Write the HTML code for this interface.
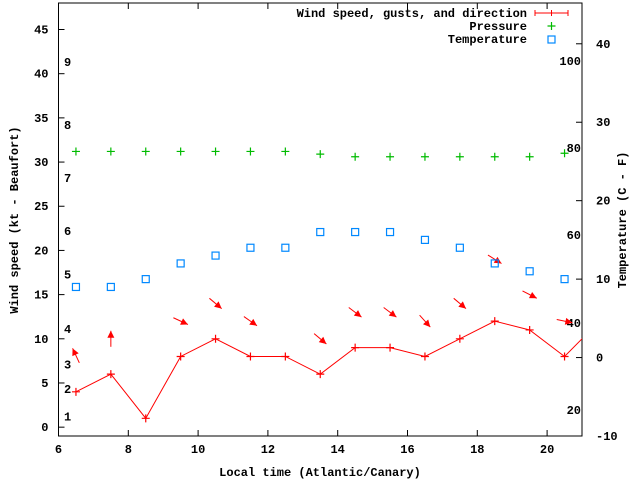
<!DOCTYPE html>
<html><head><meta charset="utf-8"><style>
html,body{margin:0;padding:0;background:#fff;}
svg{display:block;font-family:"Liberation Mono","DejaVu Sans Mono",monospace;font-weight:bold;}
</style></head><body>
<svg id="chart" width="640" height="480" viewBox="0 0 640 480" xmlns="http://www.w3.org/2000/svg">
<g id="axes"></g>
<g id="marks"></g>
</svg>
<script>
const hours = [6.5,7.5,8.5,9.5,10.5,11.5,12.5,13.5,14.5,15.5,16.5,17.5,18.5,19.5,20.5,21.5];
const windSpeed = [4,6,1,8,10,8,8,6,9,9,8,10,12,11,8,12];
const gusts = [8.1,10,null,12,14,12,null,10,13,13,12,14,19,15,12];
const windDirAngle = [-115,-90,null,25,40,35,null,40,37,37,48,40,32,27,12];
const pressure = [31.2,31.2,31.2,31.2,31.2,31.2,31.2,30.9,30.6,30.6,30.6,30.6,30.6,30.6,31.0];
const temperature = [9,9,10,12,13,14,14,16,16,16,15,14,12,11,10];
const xTicks = [6,8,10,12,14,16,18,20];
const yTicks = [0,5,10,15,20,25,30,35,40,45];
const y2Ticks = [-10,0,10,20,30,40];
const beaufortLabels = ["1","2","3","4","5","6","7","8","9"];
const beaufortY = [1.2,4.3,7.1,11.1,17.3,22.2,28.2,34.2,41.3];
const fahrenheitLabels = ["20","40","60","80","100"];
const fahrenheitC = [-6.7,4.4,15.6,26.7,37.8];

const L=58.5,R=582,T=3,B=436;
const X=h=>L+(h-6)/(21-6)*(R-L);
const Y=v=>B-(v-(-1))/(48-(-1))*(B-T);
const Y2=c=>B-(c-(-10))/(45.2-(-10))*(B-T);
const NS="http://www.w3.org/2000/svg";
function mk(tag,parent,attrs){const e=document.createElementNS(NS,tag);for(const k in attrs)e.setAttribute(k,attrs[k]);parent.appendChild(e);return e;}
const axes=document.getElementById('axes'),marks=document.getElementById('marks');

let e=mk('rect',axes,{x:L,y:T,width:R-L,height:B-T,fill:'none',stroke:'#000','stroke-width':1});


xTicks.forEach(t=>{
  const x=X(t);
  mk('line',axes,{x1:x,y1:B,x2:x,y2:B-6,stroke:'#000'});
  mk('line',axes,{x1:x,y1:T,x2:x,y2:T+6,stroke:'#000'});
  const tx=mk('text',axes,{x:x,y:B+17,'text-anchor':'middle','font-size':12});
  tx.textContent=t;
  
  
});
yTicks.forEach(t=>{
  const y=Y(t);
  mk('line',axes,{x1:L,y1:y,x2:L+6,y2:y,stroke:'#000'});
  const tx=mk('text',axes,{x:L-10,y:y+4,'text-anchor':'end','font-size':12});
  tx.textContent=t;
  
  
});
y2Ticks.forEach(t=>{
  const y=Y2(t);
  mk('line',axes,{x1:R,y1:y,x2:R-6,y2:y,stroke:'#000'});
  const tx=mk('text',axes,{x:R+14,y:y+4,'text-anchor':'start','font-size':12});
  tx.textContent=t;
  
  
});
beaufortLabels.forEach((l,i)=>{
  const tx=mk('text',axes,{x:64,y:Y(beaufortY[i])+4,'font-size':12});
  tx.textContent=l;
  
  
});
fahrenheitLabels.forEach((l,i)=>{
  const tx=mk('text',axes,{x:R-1,y:Y2(fahrenheitC[i])+4,'text-anchor':'end','font-size':12});
  tx.textContent=l;
  
  
});
let t1=mk('text',axes,{x:320,y:476,'text-anchor':'middle','font-size':12});
t1.textContent='Local time (Atlantic/Canary)';


let t2=mk('text',axes,{x:18,y:220,'text-anchor':'middle','font-size':12,transform:'rotate(-90 18 220)'});
t2.textContent='Wind speed (kt - Beaufort)';


let t3=mk('text',axes,{x:626,y:220,'text-anchor':'middle','font-size':12,transform:'rotate(-90 626 220)'});
t3.textContent='Temperature (C - F)';



// wind line
const pts=hours.map((h,i)=>[X(h),Y(windSpeed[i])]);
const cp=mk('clipPath',marks,{id:'clip'});mk('rect',cp,{x:L,y:T,width:R-L,height:B-T});
let wl=mk('polyline',marks,{points:pts.map(p=>p.join(',')).join(' '),fill:'none',stroke:'#f00','stroke-width':1,'clip-path':'url(#clip)'});


pts.forEach(p=>{if(p[0]>R)return;
  const g=mk('path',marks,{d:`M${p[0]-4},${p[1]}h8M${p[0]},${p[1]-4}v8`,stroke:'#f00','stroke-width':1.2});
  
  
});
// arrows
gusts.forEach((gv,i)=>{
  if(gv==null)return;
  const cx=X(hours[i]),cy=Y(gv),a=windDirAngle[i]*Math.PI/180,len=8;
  const dx=Math.cos(a)*len,dy=Math.sin(a)*len;
  const hx=cx+dx,hy=cy+dy;
  const g=mk('g',marks,{});
  
  
  mk('line',g,{x1:cx-dx,y1:cy-dy,x2:hx,y2:hy,stroke:'#f00','stroke-width':1});
  const ux=dx/len,uy=dy/len,px=-uy,py=ux;
  mk('polygon',g,{points:`${hx},${hy} ${hx-ux*7+px*3.5},${hy-uy*7+py*3.5} ${hx-ux*7-px*3.5},${hy-uy*7-py*3.5}`,fill:'#f00'});
});
// pressure
pressure.forEach((p,i)=>{
  const x=X(hours[i]),y=Y(p);
  const g=mk('path',marks,{d:`M${x-4},${y}h8M${x},${y-4}v8`,stroke:'#0b0','stroke-width':1.2});
  
  
});
// temperature
temperature.forEach((c,i)=>{
  const x=X(hours[i]),y=Y2(c);
  const r=mk('rect',marks,{x:x-3.5,y:y-3.5,width:7,height:7,fill:'none',stroke:'#08f','stroke-width':1.2});
  
  
});
// legend
const leg=mk('g',marks,{});


[['Wind speed, gusts, and direction',13],['Pressure',26],['Temperature',39]].forEach((l,i)=>{
  const tx=mk('text',leg,{x:527,y:l[1]+4,'text-anchor':'end','font-size':12});
  tx.textContent=l[0];
  
  
});
mk('path',leg,{d:'M535,13h33M535,10v6M568,10v6M551.5,10v6',stroke:'#f00','stroke-width':1});
mk('path',leg,{d:'M547.5,26h8M551.5,22v8',stroke:'#0b0','stroke-width':1.2});
mk('rect',leg,{x:548,y:36,width:7,height:7,fill:'none',stroke:'#08f','stroke-width':1.2});
</script>
</body></html>
